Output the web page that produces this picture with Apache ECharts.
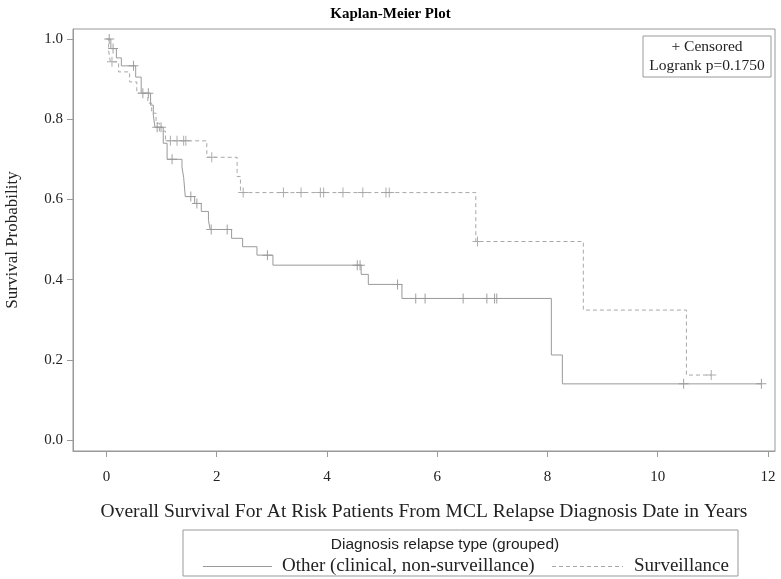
<!DOCTYPE html>
<html>
<head>
<meta charset="utf-8">
<script src="https://cdn.jsdelivr.net/npm/echarts@6/dist/echarts.min.js"></script>
<style>html,body{margin:0;padding:0;background:#fff}#c{width:781px;height:579px}</style>
</head>
<body>
<div id="c"></div>
<script>
// ---- Data ----
const seriesNames = ['Other (clinical, non-surveillance)', 'Surveillance'];
const otherTimes = [0, 0.08, 0.18, 0.27, 0.53, 0.63, 0.80, 0.85, 0.88, 1.03, 1.10, 1.37, 1.40, 1.43, 1.60, 1.72, 1.85, 1.88, 2.27, 2.47, 2.73, 3.02, 4.62, 4.75, 5.36, 8.07, 8.27, 11.88];
const otherSurv  = [1.0, 0.976, 0.953, 0.933, 0.905, 0.865, 0.835, 0.81, 0.78, 0.74, 0.70, 0.68, 0.655, 0.607, 0.59, 0.57, 0.548, 0.525, 0.503, 0.482, 0.461, 0.436, 0.413, 0.388, 0.353, 0.212, 0.140, 0.140];
const otherCensor = [0.05, 0.12, 0.49, 0.66, 0.76, 0.92, 0.99, 1.19, 1.53, 1.64, 1.90, 2.19, 2.92, 4.55, 4.60, 5.28, 5.61, 5.78, 6.47, 6.90, 7.04, 7.08, 10.47, 11.88];
const survTimes = [0, 0.04, 0.07, 0.22, 0.42, 0.55, 0.75, 0.82, 0.90, 0.96, 1.07, 1.82, 2.37, 2.43, 6.70, 8.65, 10.52, 10.97];
const survSurv  = [1.0, 0.97, 0.943, 0.918, 0.893, 0.865, 0.84, 0.815, 0.79, 0.77, 0.746, 0.705, 0.657, 0.617, 0.495, 0.324, 0.162, 0.162];
const survCensor = [0.10, 1.16, 1.28, 1.40, 1.44, 1.91, 2.48, 3.21, 3.53, 3.88, 3.94, 4.29, 4.65, 5.07, 5.13, 6.73, 10.97];
const xTicks = [0, 2, 4, 6, 8, 10, 12];
const yTicks = [0, 0.2, 0.4, 0.6, 0.8, 1.0];
const pValueText = 'Logrank p=0.1750';

// ---- helpers ----
function pairs(t, s) { return t.map((v, i) => [v, s[i]]); }
function stepAt(t, s, x) { let v = s[0]; for (let i = 0; i < t.length; i++) { if (t[i] <= x) v = s[i]; } return v; }
function censorPts(t, s, c) { return c.map(x => [x, stepAt(t, s, x)]); }

const serif = 'Liberation Serif';
const plus = 'path://M4.5,0h1v4.5h4.5v1h-4.5v4.5h-1v-4.5h-4.5v-1h4.5z';
const colOther = '#9a9a9a', colSurv = '#a8a8a8';

const chart = echarts.init(document.getElementById('c'), null, {renderer: 'canvas'});
chart.setOption({
  animation: false,
  backgroundColor: '#fff',
  title: {
    text: 'Kaplan-Meier Plot', left: 'center', top: 2,
    textStyle: {fontFamily: serif, fontWeight: 'bold', fontSize: 15, color: '#000'}
  },
  grid: {left: 73, right: 6, top: 29, bottom: 128, show: true, borderColor: '#999', borderWidth: 1,
    containLabel: false, outerBoundsMode: 'none'},
  xAxis: {
    type: 'value', min: -0.607, max: 12.127,
    name: 'Overall Survival For At Risk Patients From MCL Relapse Diagnosis Date in Years',
    nameLocation: 'middle', nameGap: 51,
    nameTextStyle: {fontFamily: serif, fontSize: 19.5, color: '#222'},
    axisLine: {show: true, onZero: false, lineStyle: {color: '#999'}},
    axisTick: {show: true, length: 6, customValues: xTicks, lineStyle: {color: '#999'}},
    axisLabel: {customValues: xTicks, fontFamily: serif, fontSize: 15, color: '#222', margin: 19},
    splitLine: {show: false}
  },
  yAxis: {
    type: 'value', min: -0.02743, max: 1.02494,
    name: 'Survival Probability', nameLocation: 'middle', nameGap: 52,
    nameTextStyle: {fontFamily: serif, fontSize: 17, color: '#222'},
    axisLine: {show: true, onZero: false, lineStyle: {color: '#999'}},
    axisTick: {show: true, length: 6, customValues: yTicks, lineStyle: {color: '#999'}},
    axisLabel: {customValues: yTicks, fontFamily: serif, fontSize: 15, color: '#222', margin: 10,
      formatter: v => v.toFixed(1)},
    splitLine: {show: false}
  },
  graphic: [
    {type: 'rect', shape: {x: 643, y: 36, width: 128, height: 41}, style: {fill: '#fff', stroke: '#999', lineWidth: 1}, z: 100},
    {type: 'text', x: 707, y: 47, style: {text: '+ Censored', fontFamily: serif, fontSize: 15.5, fill: '#222', textAlign: 'center', textVerticalAlign: 'middle'}, z: 101},
    {type: 'text', x: 707, y: 66, style: {text: pValueText, fontFamily: serif, fontSize: 15.5, fill: '#222', textAlign: 'center', textVerticalAlign: 'middle'}, z: 101},
    {type: 'rect', shape: {x: 183, y: 530, width: 555, height: 46}, style: {fill: 'none', stroke: '#999', lineWidth: 1}, z: 1},
    {type: 'text', x: 445, y: 545, style: {text: 'Diagnosis relapse type (grouped)', fontFamily: 'Liberation Sans', fontSize: 15.5, fill: '#222', textAlign: 'center', textVerticalAlign: 'middle'}, z: 2},
    {type: 'line', shape: {x1: 203, y1: 566.5, x2: 272, y2: 566.5}, style: {stroke: colOther, lineWidth: 1}, z: 2},
    {type: 'text', x: 282, y: 566, style: {text: seriesNames[0], fontFamily: serif, fontSize: 19, fill: '#222', textAlign: 'left', textVerticalAlign: 'middle'}, z: 2},
    {type: 'line', shape: {x1: 552, y1: 566.5, x2: 623, y2: 566.5}, style: {stroke: colSurv, lineWidth: 1, lineDash: [4, 3]}, z: 2},
    {type: 'text', x: 634, y: 566, style: {text: seriesNames[1], fontFamily: serif, fontSize: 19, fill: '#222', textAlign: 'left', textVerticalAlign: 'middle'}, z: 2}
  ],
  series: [
    {
      name: seriesNames[0], type: 'line', step: 'end', data: pairs(otherTimes, otherSurv),
      showSymbol: false, symbol: 'none', lineStyle: {color: colOther, width: 1, type: 'solid'}, itemStyle: {color: colOther}
    },
    {
      name: seriesNames[1], type: 'line', step: 'end', data: pairs(survTimes, survSurv),
      showSymbol: false, symbol: 'none', lineStyle: {color: colSurv, width: 1, type: [4, 3]}, itemStyle: {color: colSurv}
    },
    {
      name: 'censorOther', type: 'scatter', data: censorPts(otherTimes, otherSurv, otherCensor),
      symbol: plus, symbolSize: 10, itemStyle: {color: '#888'}
    },
    {
      name: 'censorSurv', type: 'scatter', data: censorPts(survTimes, survSurv, survCensor),
      symbol: plus, symbolSize: 10, itemStyle: {color: '#999'}
    }
  ]
});
</script>
</body>
</html>
